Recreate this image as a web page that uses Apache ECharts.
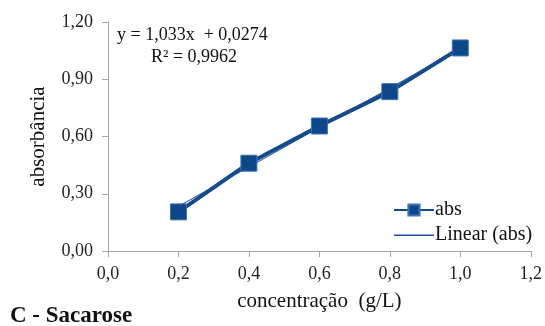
<!DOCTYPE html>
<html><head><meta charset="utf-8">
<script src="https://cdn.jsdelivr.net/npm/echarts@6/dist/echarts.min.js"></script>
<style>html,body{margin:0;padding:0;background:#fff}#c{width:545px;height:326px}</style>
</head><body><div id="c"></div>
<script>
var concentracao = [0.2, 0.4, 0.6, 0.8, 1.0];
var abs = [0.205, 0.46, 0.655, 0.835, 1.064];
var slope = 1.033, intercept = 0.0274;
var equationText = 'y = 1,033x  + 0,0274';
var r2Text = 'R² = 0,9962';
var xTitle = 'concentração  (g/L)';
var yTitle = 'absorbância';
var caption = 'C - Sacarose';

var trendX = [concentracao[0], concentracao[concentracao.length - 1]];
var F = 'Liberation Serif';
var chart = echarts.init(document.getElementById('c'));
chart.setOption({
  animation: false,
  textStyle: { fontFamily: F },
  grid: { left: 108, right: 11, top: 22, bottom: 75 },
  xAxis: {
    type: 'value', min: 0, max: 1.2, interval: 0.2,
    name: xTitle, nameLocation: 'middle', nameGap: 40,
    nameTextStyle: { fontFamily: F, fontSize: 21, color: '#111' },
    axisLine: { lineStyle: { color: '#a6a6a6' } },
    axisTick: { show: true, length: 6, lineStyle: { color: '#a6a6a6' } },
    splitLine: { show: false },
    axisLabel: { fontFamily: F, fontSize: 18, color: '#222', margin: 14,
      formatter: function (v) { return v.toFixed(1).replace('.', ','); } }
  },
  yAxis: {
    type: 'value', min: 0, max: 1.2, interval: 0.3,
    name: yTitle, nameLocation: 'middle', nameGap: 59, nameRotate: 90,
    nameTextStyle: { fontFamily: F, fontSize: 21, color: '#111' },
    axisLine: { show: true, lineStyle: { color: '#a6a6a6' } },
    axisTick: { show: true, length: 6, lineStyle: { color: '#a6a6a6' } },
    splitLine: { show: false },
    axisLabel: { fontFamily: F, fontSize: 18, color: '#222', margin: 15,
      formatter: function (v) { return v.toFixed(2).replace('.', ','); } }
  },
  legend: {
    orient: 'vertical', left: 388, top: 195, itemWidth: 40, itemHeight: 14, itemGap: 5,
    textStyle: { fontFamily: F, fontSize: 20, color: '#111', padding: [0, 0, 0, -4] },
    data: [
      { name: 'abs' },
      { name: 'Linear (abs)', icon: 'path://M0,0L0,0M0,6.5L40,6.5L40,8L0,8ZM40,14L40,14' }
    ]
  },
  series: [
    {
      name: 'abs', type: 'line',
      data: concentracao.map(function (x, i) { return [x, abs[i]]; }),
      symbol: 'rect', symbolSize: 16,
      lineStyle: { color: '#124a8a', width: 4 },
      itemStyle: { color: '#0d4689', borderColor: '#3f74b3', borderWidth: 1 },
      z: 3
    },
    {
      name: 'Linear (abs)', type: 'line',
      data: trendX.map(function (x) { return [x, slope * x + intercept]; }),
      symbol: 'none',
      lineStyle: { color: '#1d4f96', width: 1 },
      itemStyle: { color: '#1d4f96' },
      z: 4
    }
  ],
  graphic: [
    { type: 'text', left: 117, top: 26, style: { text: equationText, fontFamily: F, fontSize: 18, fill: '#111' } },
    { type: 'text', left: 151, top: 48, style: { text: r2Text, fontFamily: F, fontSize: 18, fill: '#111' } },
    { type: 'text', left: 10, top: 305, style: { text: caption, fontFamily: F, fontSize: 23, fontWeight: 'bold', fill: '#111' } }
  ]
});
</script></body></html>
